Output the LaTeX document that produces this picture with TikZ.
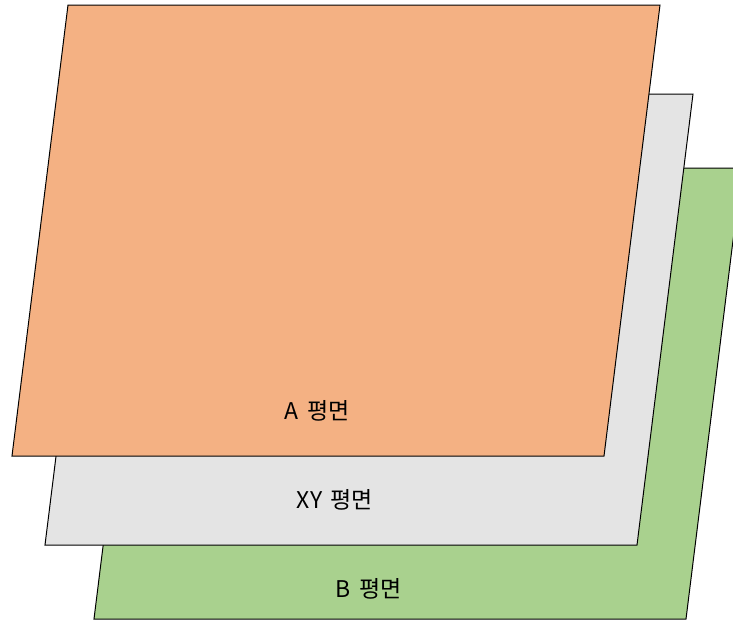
\documentclass[tikz,border=0pt]{standalone}
\usepackage{fontspec}
\setmainfont{Noto Sans CJK KR}
\definecolor{planeA}{HTML}{F4B183}
\definecolor{planeXY}{HTML}{E4E4E4}
\definecolor{planeB}{HTML}{A9D18E}
\tikzset{
  plane/.style={draw=black, line width=1pt, line join=miter},
  lbl/.style={font=\fontsize{23}{27}\selectfont, text=black, inner sep=0pt, anchor=center}
}
\begin{document}
\begin{tikzpicture}[x=1pt,y=-1pt]
\useasboundingbox (0,0) rectangle (733,621);
\clip (0,0) rectangle (733,621);
% B plane (green)
\filldraw[plane, fill=planeB] (150,168) -- (742,168) -- (686,619) -- (94,619) -- cycle;
% XY plane (gray)
\filldraw[plane, fill=planeXY] (101,94) -- (693,94) -- (637,545) -- (45,545) -- cycle;
% A plane (orange)
\filldraw[plane, fill=planeA] (68,5) -- (660,5) -- (604,456) -- (12,456) -- cycle;
\node[lbl] (labelA) at (317,411) {A\hspace{0.15em} 평면};
\node[lbl] (labelXY) at (335,500) {XY\hspace{0.15em} 평면};
\node[lbl] (labelB) at (369,589) {B\hspace{0.15em} 평면};
\end{tikzpicture}
\end{document}
